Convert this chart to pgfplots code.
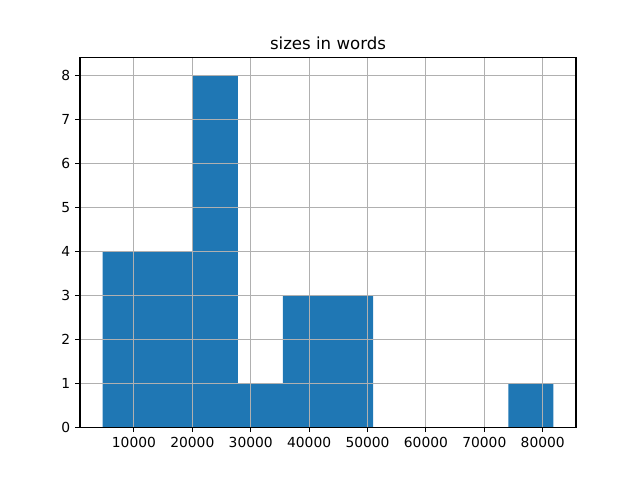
\documentclass[border=0pt]{standalone}
\usepackage{fontspec}
\setmainfont{DejaVu Sans}
\usepackage{pgfplots}
\pgfplotsset{compat=1.18}
\usetikzlibrary{calc}
\definecolor{mplblue}{HTML}{1F77B4}
\definecolor{gridgray}{HTML}{B0B0B0}

\begin{document}%
\fontsize{10}{12}\selectfont%
\begin{tikzpicture}
\begin{axis}[
    scale only axis,
    width=4.96in,
    height=3.696in,
    xmin=766, xmax=85697,
    ymin=0, ymax=8.4,
    xtick={10000,20000,30000,40000,50000,60000,70000,80000},
    ytick={0,1,2,3,4,5,6,7,8},
    scaled x ticks=false,
    xticklabel style={/pgf/number format/fixed, /pgf/number format/1000 sep={}},
    /pgf/number format/assume math mode=true,
    tick label style={font=\fontsize{10}{12}\selectfont},
    tick align=outside,
    tick pos=left,
    major tick length=3.5pt,
    every tick/.style={black, line width=0.8pt},
    axis line style={line width=0.8pt},
    grid=major,
    grid style={gridgray, line width=0.7pt},
    axis on top,
    title={sizes in words},
    title style={font=\fontsize{12}{14}\selectfont, yshift=-3.5pt},
]
\addplot[ybar interval, fill=mplblue, draw=none] coordinates {
    (4626,4) (12347,4) (20068,8) (27789,1) (35510,3) (43231,3)
    (50952,0) (58673,0) (66394,0) (74115,1) (81836,1)
};
\end{axis}
\pgfresetboundingbox
\path[use as bounding box] ($(current axis.south west)+(-0.8in,-0.528in)$) rectangle ($(current axis.north east)+(0.64in,0.576in)$);
\end{tikzpicture}%
\end{document}
